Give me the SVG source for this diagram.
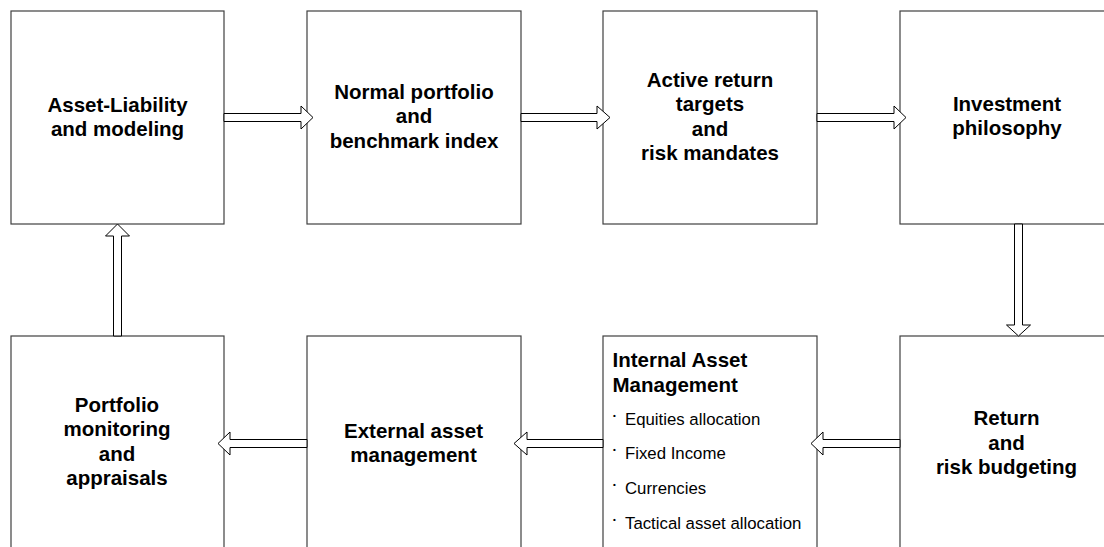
<svg xmlns="http://www.w3.org/2000/svg" width="1104" height="547" viewBox="0 0 1104 547">
<style>
.box{fill:#fff;stroke:#404040;stroke-width:1.2}
.t{font-family:"Liberation Sans",Arial,sans-serif;font-weight:bold;font-size:20.5px;fill:#000;text-anchor:middle}
.th{font-family:"Liberation Sans",Arial,sans-serif;font-weight:bold;font-size:20.5px;fill:#000}
.b{font-family:"Liberation Sans",Arial,sans-serif;font-size:16.8px;fill:#000}
.dot{font-family:"Liberation Sans",Arial,sans-serif;font-weight:bold;font-size:8px;fill:#000;text-anchor:middle}
.arr{fill:#fff;stroke:#000;stroke-width:1}
</style>
<rect width="1104" height="547" fill="#fff"/>
<g id="n1">
<rect class="box" x="11" y="11" width="213" height="213"/>
<text class="t" x="117.5" y="112">Asset-Liability</text>
<text class="t" x="117.5" y="136">and modeling</text>
</g>
<g id="n2">
<rect class="box" x="307" y="11" width="214" height="213"/>
<text class="t" x="414" y="98.5">Normal portfolio</text>
<text class="t" x="414" y="123">and</text>
<text class="t" x="414" y="147.5">benchmark index</text>
</g>
<g id="n3">
<rect class="box" x="603" y="11" width="214" height="213"/>
<text class="t" x="710" y="87">Active return</text>
<text class="t" x="710" y="111">targets</text>
<text class="t" x="710" y="135.5">and</text>
<text class="t" x="710" y="160">risk mandates</text>
</g>
<g id="n4">
<rect class="box" x="900" y="11" width="214" height="213"/>
<text class="t" x="1007" y="111">Investment</text>
<text class="t" x="1007" y="135">philosophy</text>
</g>
<g id="n5">
<rect class="box" x="900" y="336" width="214" height="220"/>
<text class="t" x="1006.5" y="425">Return</text>
<text class="t" x="1006.5" y="449.5">and</text>
<text class="t" x="1006.5" y="474">risk budgeting</text>
</g>
<g id="n6">
<rect class="box" x="603" y="336" width="214" height="220"/>
<text class="th" x="612.5" y="366.5">Internal Asset</text>
<text class="th" x="612.5" y="391.5">Management</text>
<text class="dot" x="614.5" y="418">•</text>
<text class="b" x="625" y="425">Equities allocation</text>
<text class="dot" x="614.5" y="451.5">•</text>
<text class="b" x="625" y="458.5">Fixed Income</text>
<text class="dot" x="614.5" y="486.5">•</text>
<text class="b" x="625" y="493.5">Currencies</text>
<text class="dot" x="614.5" y="521.5">•</text>
<text class="b" x="625" y="528.5">Tactical asset allocation</text>
</g>
<g id="n7">
<rect class="box" x="307" y="336" width="214" height="220"/>
<text class="t" x="413.5" y="437.5">External asset</text>
<text class="t" x="413.5" y="461.5">management</text>
</g>
<g id="n8">
<rect class="box" x="11" y="336" width="213" height="220"/>
<text class="t" x="117" y="411.5">Portfolio</text>
<text class="t" x="117" y="436">monitoring</text>
<text class="t" x="117" y="460.5">and</text>
<text class="t" x="117" y="485">appraisals</text>
</g>
<g id="connectors">
<polygon class="arr" points="224,113.5 301,113.5 301,106 313,117.5 301,129 301,121.5 224,121.5"/>
<polygon class="arr" points="521,113.5 597,113.5 597,106 610,117.5 597,129 597,121.5 521,121.5"/>
<polygon class="arr" points="817,113.5 894,113.5 894,106 906,117.5 894,129 894,121.5 817,121.5"/>
<polygon class="arr" points="1014.5,224 1014.5,325 1006.5,325 1018.5,336 1030.5,325 1022.5,325 1022.5,224"/>
<polygon class="arr" points="900,439.5 823,439.5 823,432 811,443.5 823,455 823,447.5 900,447.5"/>
<polygon class="arr" points="603,439.5 527,439.5 527,432 514,443.5 527,455 527,447.5 603,447.5"/>
<polygon class="arr" points="307,439.5 230,439.5 230,432 218,443.5 230,455 230,447.5 307,447.5"/>
<polygon class="arr" points="113.5,336 113.5,236 105.5,236 117.5,224 129.5,236 121.5,236 121.5,336"/>
</g>
</svg>
